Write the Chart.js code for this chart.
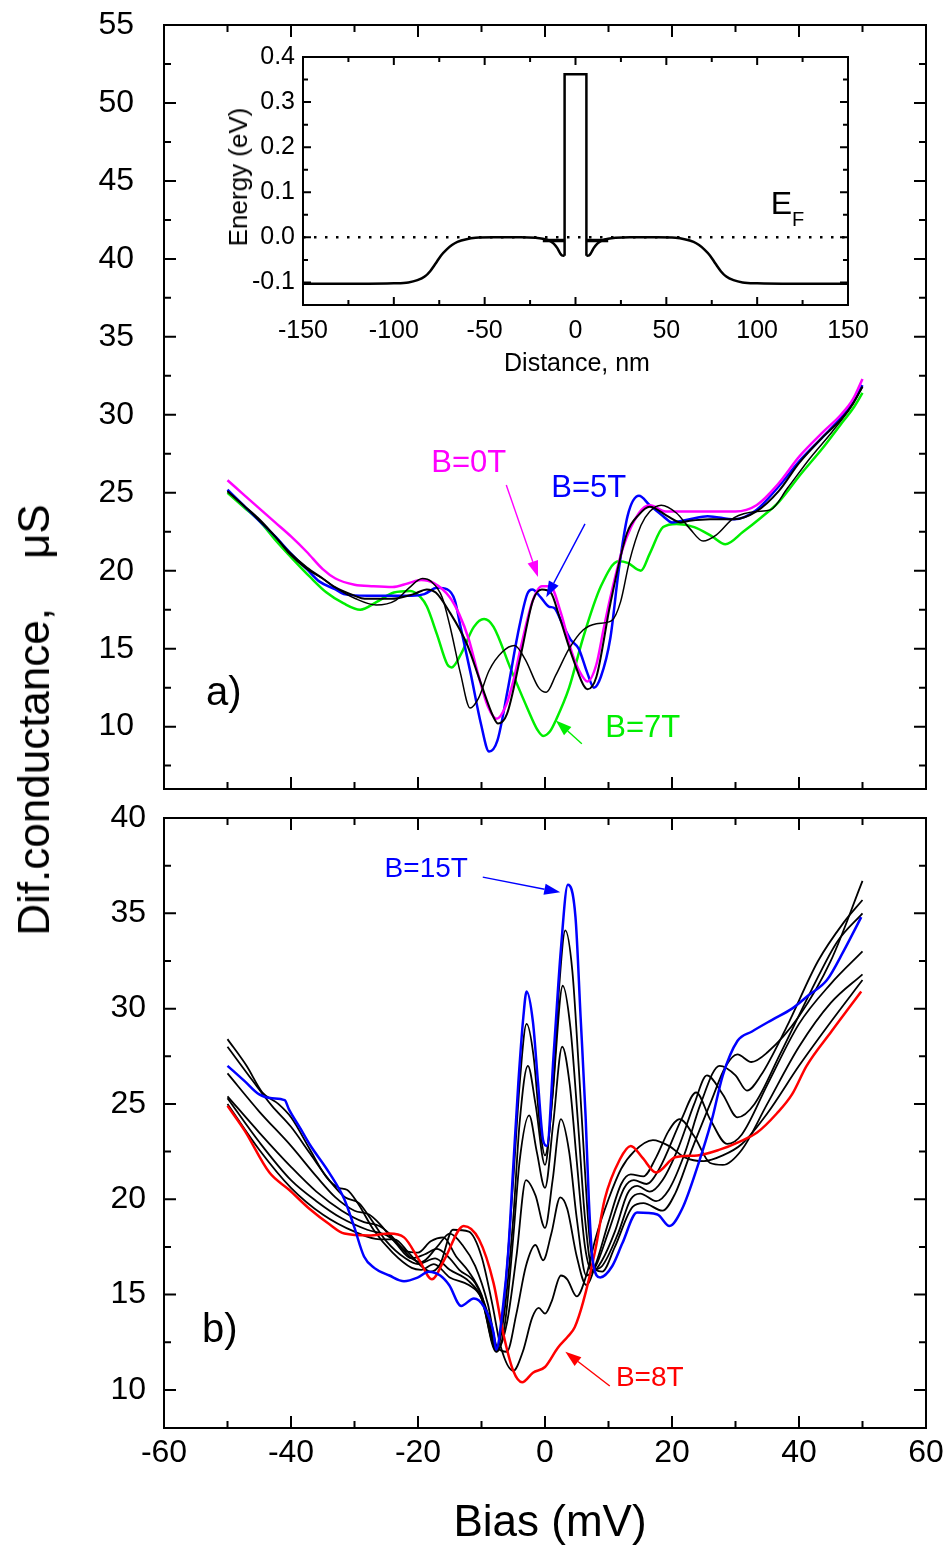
<!DOCTYPE html>
<html>
<head>
<meta charset="utf-8">
<title>Dif. conductance vs bias</title>
<script src="https://cdn.jsdelivr.net/npm/chart.js@4.4.1/dist/chart.umd.min.js"></script>
<style>
  body { margin: 0; background: #fff; }
  #page { position: relative; width: 948px; height: 1548px; overflow: hidden;
          font-family: "Liberation Sans", Arial, sans-serif; color: #000; }
  canvas { position: absolute; }
  .lbl { position: absolute; white-space: pre; line-height: 1; transform: translate(-50%, -50%); }
  .rot { transform: translate(-50%, -50%) rotate(-90deg); }
</style>
</head>
<body>
<div id="page">
  <canvas id="topChart" width="948" height="820" style="left:0;top:0"></canvas>
  <canvas id="bottomChart" width="948" height="758" style="left:0;top:790px"></canvas>
  <canvas id="insetChart" width="680" height="350" style="left:200px;top:30px"></canvas>
  <div class="lbl rot" style="left:34px;top:720px;font-size:44px">Dif.conductance,    μS</div>
  <div class="lbl" style="left:550px;top:1521px;font-size:44px">Bias (mV)</div>
  <div class="lbl rot" style="left:238px;top:177px;font-size:26px">Energy (eV)</div>
  <div class="lbl" style="left:577px;top:362px;font-size:25px">Distance, nm</div>
</div>
<script>
Chart.defaults.font.family = '"Liberation Sans", Arial, sans-serif';
Chart.defaults.color = '#000';

// --- TICKS ---
const biasTicks = [-60, -40, -20, 0, 20, 40, 60];
const biasMinor = [-50, -30, -10, 10, 30, 50];
const condTicksA = [10, 15, 20, 25, 30, 35, 40, 45, 50, 55];
const condMinorA = [7.5, 12.5, 17.5, 22.5, 27.5, 32.5, 37.5, 42.5, 47.5, 52.5];
const condTicksB = [10, 15, 20, 25, 30, 35, 40];
const condMinorB = [12.5, 17.5, 22.5, 27.5, 32.5, 37.5];
const distTicks = [-150, -100, -50, 0, 50, 100, 150];
const distMinor = [-125, -75, -25, 25, 75, 125];
const energyTicks = [-0.1, 0.0, 0.1, 0.2, 0.3, 0.4];
const energyMinor = [-0.05, 0.05, 0.15, 0.25, 0.35];

// --- PANEL a): [bias mV, conductance uS] ---
const a_B0T = [[-50,25.8],[-47.5,24.9],[-45,24.0],[-42.5,23.1],[-40,22.2],[-37.5,21.2],[-35,20.1],[-33,19.5],[-30,19.1],[-27,19.0],[-24,18.95],[-21.5,19.2],[-19.5,19.4],[-17.5,19.2],[-15,18.3],[-13.5,17.2],[-12,15.6],[-10.5,13.3],[-9,11.3],[-7.6,10.5],[-6.2,11.3],[-5,12.9],[-3.8,15.1],[-2,18.0],[-0.5,19.0],[0.8,19.0],[2.5,17.3],[4.2,14.8],[5.5,13.5],[6.7,12.9],[8.1,14.0],[9.2,16.2],[10.3,18.3],[12.3,21.5],[14.8,23.7],[16.5,24.2],[19,23.8],[22,23.8],[26,23.8],[30,23.8],[33.3,24.2],[36.8,25.6],[40,27.3],[43.8,28.9],[46.6,30.0],[48.5,31.0],[50,32.3]];
const a_B5T = [[-50,25.2],[-47.5,24.2],[-45,23.2],[-42.5,22.2],[-40,21.1],[-37.5,20.1],[-35.5,19.3],[-33,18.8],[-31.7,18.5],[-28,18.4],[-24,18.4],[-21,18.4],[-19,18.5],[-17,18.9],[-15.4,18.8],[-14.2,18.1],[-13.3,16.4],[-11.7,13.4],[-10.1,10.2],[-8.8,8.4],[-7.5,9.1],[-5.9,12.3],[-4.3,15.9],[-2.8,18.5],[-2.0,18.8],[-0.7,18.3],[0.6,17.7],[1.5,17.6],[2.5,16.8],[4,15.6],[5.3,15.0],[6.7,13.4],[7.7,12.5],[8.8,13.2],[10.3,15.7],[11.6,20.0],[13,23.5],[14.8,24.8],[16.5,24.2],[18.6,23.5],[20,23.1],[22.8,23.3],[25.6,23.5],[29.8,23.3],[33.3,23.9],[36.8,25.4],[40,27.0],[43.8,28.6],[46.6,29.8],[48.5,30.8],[50,31.9]];
const a_B7T = [[-50,25.0],[-47.5,24.1],[-45,23.2],[-42.3,21.9],[-39.6,20.7],[-37,19.6],[-34.4,18.6],[-31.7,17.9],[-29.1,17.5],[-26.5,18.0],[-23.8,18.6],[-21.2,18.7],[-19.6,18.3],[-18.6,17.7],[-17,15.9],[-15.4,14.0],[-14.7,13.8],[-13.3,14.6],[-11.2,16.4],[-9.6,16.9],[-8.1,16.4],[-5.5,13.8],[-2.8,11.2],[-1.2,9.8],[-0.3,9.4],[0.8,9.7],[1.7,10.4],[3.8,12.5],[6,15.7],[8.8,19.0],[11.6,20.6],[13,20.5],[15.1,20.0],[16.5,21.1],[18.6,22.8],[20.7,23.0],[23.5,22.8],[26.3,22.2],[28.4,21.7],[31.2,22.5],[34,23.4],[36.8,24.4],[40.3,26.2],[43.8,27.9],[46.6,29.4],[48.5,30.4],[50,31.4]];
const a_blackA = [[-50,25.1],[-47.5,24.2],[-45,23.3],[-42.5,22.2],[-40.3,21.2],[-37.5,20.2],[-35,19.5],[-33.3,19.0],[-30,18.4],[-28.4,18.2],[-24.2,18.2],[-20.7,18.5],[-18.6,18.8],[-17.2,18.6],[-15.1,17.4],[-12.3,15.3],[-10.2,12.9],[-8.1,10.6],[-7.4,10.2],[-6,10.8],[-3.8,14.6],[-1.9,18.1],[-0.5,18.8],[0.9,18.6],[2.3,17.0],[4.2,14.6],[6,12.7],[6.7,12.4],[8.1,13.2],[10.3,17.9],[12.9,22.4],[14.8,23.6],[16.5,24.1],[19.3,23.5],[21.4,23.1],[22.8,23.2],[26,23.3],[29.8,23.3],[33.3,23.8],[36.8,25.1],[40,26.9],[43.8,28.6],[46.6,29.7],[48.5,30.7],[50,31.8]];
const a_blackB = [[-50,25.1],[-47.5,24.2],[-45,23.2],[-42.5,22.2],[-40.3,21.1],[-37.5,20.1],[-35,19.5],[-33.3,19.0],[-29.8,18.2],[-26.6,17.8],[-23.5,18.1],[-21.4,18.9],[-19.3,19.5],[-17.9,19.3],[-16.2,18.3],[-15,16.5],[-13.3,13.4],[-11.8,11.2],[-10.5,11.8],[-8.8,13.6],[-6.7,14.8],[-4.8,15.2],[-3.1,14.3],[-1,12.5],[0.2,12.2],[1.7,13.3],[3.8,15.0],[6,16.2],[8.1,16.6],[10.5,16.8],[11.9,18.0],[13.3,20.6],[15.1,22.9],[16.5,23.8],[18.3,24.2],[20.7,23.7],[22.8,22.7],[24.9,21.9],[27,22.3],[29.8,23.4],[33.3,23.8],[35.5,23.9],[38.2,25.3],[41.7,27.2],[45.2,28.9],[48,30.4],[50,31.8]];

// --- PANEL b): [bias mV, conductance uS] ---
const b_B8T = [[-50,24.9],[-47.3,23.6],[-43.4,21.4],[-40.3,20.5],[-37.1,19.5],[-34,18.7],[-31.6,18.2],[-27.7,18.1],[-24.5,18.2],[-22.2,18.0],[-19.8,16.8],[-17.8,15.8],[-15.9,16.8],[-12.8,18.6],[-10.4,17.9],[-8.1,15.6],[-6.6,13.0],[-5,11.0],[-3.6,10.4],[-1.9,10.9],[0,11.2],[2,12.2],[3.6,12.8],[4.7,13.3],[6,14.6],[7.9,17.3],[9.4,20.0],[11.8,22.1],[13.5,22.8],[15.3,22.2],[17.5,21.4],[20.5,22.2],[24,22.3],[27.5,22.6],[30.5,23.0],[33.4,23.5],[36.5,24.5],[38.9,25.5],[41.2,27.0],[45.1,28.8],[49.8,30.9]];
const b_B9T = [[-50,25.0],[-45,22.6],[-40,20.6],[-35,19.2],[-30,18.3],[-26,17.9],[-23.7,17.9],[-21.5,17.2],[-19.5,16.5],[-18,16.2],[-16.5,16.6],[-14.5,18.4],[-12,18.3],[-10,17.0],[-8.3,14.5],[-7,12.3],[-5,11.0],[-3.5,12.0],[-2,13.8],[-1,14.3],[0,14.0],[1,14.6],[2.5,16.0],[3.5,15.8],[5,14.9],[6.5,16.0],[8,18.0],[10,20.0],[12,21.6],[14,22.5],[17,23.1],[19.5,22.8],[22,22.2],[25,22.0],[28,22.3],[31,22.9],[35,24.5],[40,27.0],[45,29.3],[50,31.5]];
const b_B10T = [[-50,25.3],[-45,23.0],[-40,21.0],[-36,19.9],[-32,19.0],[-28,18.4],[-24.9,18.1],[-23,17.6],[-21,16.9],[-19.5,16.7],[-17,17.5],[-15,18.2],[-13,17.6],[-11,16.5],[-9,14.5],[-7.5,12.2],[-6,12.0],[-4.5,14.0],[-3,16.5],[-1.5,17.6],[-0.3,16.8],[1,18.2],[2.4,20.1],[3.5,19.5],[5,17.0],[6.5,15.5],[8,16.6],[10,18.8],[12,20.8],[13.5,21.3],[15.5,21.2],[17.5,22.2],[19.5,23.6],[21.2,24.2],[23.5,23.3],[26,21.9],[28,21.8],[31,22.6],[35,25.0],[40,28.0],[45,30.3],[50,31.8]];
const b_B11T = [[-50,25.4],[-45,23.5],[-40,21.7],[-36,20.4],[-32,19.4],[-28.5,18.8],[-26.1,18.6],[-24.5,18.2],[-22,17.3],[-20,17.2],[-18,17.8],[-16,18.0],[-14,17.0],[-12,16.2],[-10,15.0],[-7.5,12.1],[-6,13.5],[-4.5,17.0],[-3,21.0],[-1.5,20.2],[0,18.5],[1.2,21.0],[2.5,24.2],[3.8,22.5],[5,19.0],[6.5,16.0],[8,16.5],[10,18.3],[12.5,20.6],[14,21.0],[16,20.8],[18,21.6],[21.5,24.2],[23.8,25.6],[26,24.2],[28.7,22.9],[31,23.4],[35,26.0],[40,29.2],[45,31.3],[50,33.0]];
const b_B12T = [[-50,26.6],[-45,24.6],[-40,22.8],[-36,21.2],[-33,20.1],[-30,19.4],[-27.7,19.2],[-26,18.7],[-23.5,17.7],[-21,16.9],[-19,17.1],[-17,17.4],[-15,16.9],[-13.5,16.3],[-11,15.6],[-9,14.0],[-7.6,12.0],[-6.3,13.5],[-5,18],[-4,22],[-2.5,24.4],[-1.3,22.5],[0,20.6],[1.3,24.0],[2.7,28.0],[3.9,26.0],[5,22.0],[6.3,17.5],[7.5,16.2],[9,16.8],[11,18.3],[13,20.3],[14.5,20.7],[16.5,20.4],[18.5,21.0],[21,22.7],[23.5,25.0],[25.5,26.5],[28,25.5],[30.3,24.3],[33,25.0],[37,27.6],[42,31.0],[46,33.5],[50,35.0]];
const b_B13T = [[-50,28.0],[-46,26.2],[-43,24.9],[-40,23.8],[-37,22.4],[-34,21.0],[-31.5,20.1],[-29.3,19.8],[-27.5,19.0],[-25,17.8],[-22,16.9],[-20,16.6],[-17.3,16.9],[-15,16.3],[-12,15.7],[-10,14.8],[-7.7,12.0],[-6.5,13.8],[-5,19],[-4,24],[-2.7,27.0],[-1.5,25.0],[0,21.8],[1.2,25.5],[2.8,31.2],[4,29.0],[5.2,24.0],[6.3,19.0],[7.5,16.3],[9,16.5],[11.5,18.2],[13.5,20.0],[15,20.3],[17.5,19.9],[19.5,20.5],[22,22.4],[24.5,25.0],[27.5,27.0],[30,26.5],[31.8,25.7],[34,26.5],[38,29.0],[43,32.5],[47,34.5],[50,35.7]];
const b_B14T = [[-50,28.4],[-47,27.0],[-44.5,25.6],[-42,25.0],[-40,24.3],[-37,22.6],[-34.5,21.2],[-32.5,20.6],[-31.2,20.5],[-29.5,19.8],[-27,18.4],[-24,17.2],[-21,16.4],[-19.5,16.3],[-17.5,16.6],[-15,15.9],[-12,15.5],[-10,14.8],[-7.7,12.1],[-6.5,14.5],[-5,21],[-4,26],[-2.9,29.2],[-1.8,27.5],[-0.7,23.5],[0,22.3],[1.2,25.5],[2.2,31],[3.2,34.1],[4.3,32],[5.3,27],[6.2,22],[7,18],[8,16.3],[9,16.2],[11,17.5],[13.8,19.6],[15.5,19.8],[18.5,19.4],[20.5,20.3],[23,22.5],[26,25.0],[28.5,27.0],[30.3,27.6],[32.5,27.2],[35,27.7],[40,29.6],[45,32.5],[50,36.7]];
const b_B15T = [[-50,27.0],[-47.3,26.2],[-45,25.5],[-43,25.3],[-41,25.2],[-40.3,24.7],[-38.5,23.7],[-37.1,22.9],[-34,21.4],[-31.6,20.0],[-30.1,18.6],[-28.5,17.0],[-26.9,16.4],[-24.5,16.0],[-22.2,15.7],[-20,15.9],[-18.3,16.2],[-16.5,16.0],[-15.1,15.5],[-13.2,14.4],[-11.2,14.8],[-9.7,14.4],[-8.1,13.0],[-7.7,12.1],[-6.6,14.4],[-5.8,17.2],[-5,21.7],[-4.2,26.1],[-3.4,29.6],[-2.9,30.9],[-1.9,29.3],[-1.1,26.1],[-0.3,23.1],[0.3,22.8],[1.4,27.8],[2.5,33.1],[3.6,36.5],[4.8,34.8],[5.6,29.6],[6.4,24.3],[6.9,20.0],[7.5,16.8],[8.7,15.9],[10.6,16.5],[12.2,17.7],[14.5,19.3],[17.7,19.2],[19.6,18.6],[21.6,19.5],[24,21.7],[26.3,24.2],[28,26.5],[30.3,28.3],[32.6,28.8],[35.7,29.4],[38.9,30.0],[41.5,30.7],[44.4,31.5],[47,33.0],[49.8,34.8]];

// --- INSET: band profile [distance nm, energy eV] ---
const profileLeft = [[-150,-0.103],[-120,-0.103],[-100,-0.102],[-92,-0.1],[-87,-0.095],[-83,-0.087],[-80,-0.075],[-77,-0.058],[-74,-0.04],[-71,-0.027],[-68,-0.017],[-65,-0.01],[-60,-0.004],[-55,-0.001],[-45,0.0],[-30,0.0],[-22,-0.001],[-18,-0.003],[-15,-0.006],[-12,-0.014],[-10,-0.024],[-8.5,-0.035],[-7.5,-0.04],[-6,-0.041]];
const barrier = [[-6,-0.041],[-6,0.362],[6,0.362],[6,-0.041]];
const profileRight = [[6,-0.041],[7.5,-0.04],[8.5,-0.035],[10,-0.024],[12,-0.014],[15,-0.006],[18,-0.003],[22,-0.001],[30,0.0],[45,0.0],[55,-0.001],[60,-0.004],[65,-0.01],[68,-0.017],[71,-0.027],[74,-0.04],[77,-0.058],[80,-0.075],[83,-0.087],[87,-0.095],[92,-0.1],[100,-0.102],[120,-0.103],[150,-0.103]];
const levelLeft = [[-18,-0.007],[-6,-0.007]];
const levelRight = [[6,-0.007],[18,-0.007]];
const fermi = [[-150,0],[150,0]];

// --- PLUGINS ---
// tick marks pointing into the plot, on all four sides of the frame
const innerTicks = {
  id: 'innerTicks',
  afterDatasetsDraw(chart, args, o) {
    const { ctx, chartArea: a } = chart;
    const xs = chart.scales.x, ys = chart.scales.y;
    ctx.save();
    ctx.strokeStyle = '#000';
    ctx.lineWidth = o.lineWidth;
    ctx.beginPath();
    const tx = (vals, len) => vals.forEach(v => {
      const p = xs.getPixelForValue(v);
      ctx.moveTo(p, a.bottom); ctx.lineTo(p, a.bottom - len);
      ctx.moveTo(p, a.top); ctx.lineTo(p, a.top + len);
    });
    const ty = (vals, len) => vals.forEach(v => {
      const p = ys.getPixelForValue(v);
      ctx.moveTo(a.left, p); ctx.lineTo(a.left + len, p);
      ctx.moveTo(a.right, p); ctx.lineTo(a.right - len, p);
    });
    tx(o.xMajor, o.major); tx(o.xMinor, o.minor);
    ty(o.yMajor, o.major); ty(o.yMinor, o.minor);
    ctx.stroke();
    ctx.restore();
  }
};

// coloured labels and arrows placed in data units
const notes = {
  id: 'notes',
  afterDatasetsDraw(chart, args, o) {
    const { ctx } = chart;
    const xs = chart.scales.x, ys = chart.scales.y;
    ctx.save();
    (o.arrows || []).forEach(n => {
      const x1 = xs.getPixelForValue(n.from[0]), y1 = ys.getPixelForValue(n.from[1]);
      const x2 = xs.getPixelForValue(n.to[0]), y2 = ys.getPixelForValue(n.to[1]);
      const ang = Math.atan2(y2 - y1, x2 - x1);
      const hl = 16, hw = 5.5;
      const bx = x2 - hl * Math.cos(ang), by = y2 - hl * Math.sin(ang);
      ctx.strokeStyle = n.color;
      ctx.fillStyle = n.color;
      ctx.lineWidth = 1.4;
      ctx.beginPath(); ctx.moveTo(x1, y1); ctx.lineTo(bx, by); ctx.stroke();
      ctx.beginPath();
      ctx.moveTo(x2, y2);
      ctx.lineTo(bx + hw * Math.sin(ang), by - hw * Math.cos(ang));
      ctx.lineTo(bx - hw * Math.sin(ang), by + hw * Math.cos(ang));
      ctx.closePath(); ctx.fill();
    });
    (o.labels || []).forEach(n => {
      ctx.font = n.size + 'px "Liberation Sans", Arial, sans-serif';
      ctx.fillStyle = n.color;
      ctx.textAlign = 'center';
      ctx.textBaseline = 'middle';
      ctx.fillText(n.text, xs.getPixelForValue(n.at[0]), ys.getPixelForValue(n.at[1]));
    });
    ctx.restore();
  }
};

// --- HELPERS ---
function trace(pts, color, width, smooth = true) {
  return {
    data: pts.map(([x, y]) => ({ x, y })),
    borderColor: color,
    borderWidth: width,
    pointRadius: 0,
    fill: false,
    tension: 0,
    cubicInterpolationMode: smooth ? 'monotone' : 'default'
  };
}

// label gap is carried by an invisible tick length so it does not widen the layout padding
function axis(pos, min, max, size, labels, fontSize, gap, fmt) {
  const horiz = pos === 'top' || pos === 'bottom';
  const s = {
    type: 'linear', position: pos, min, max,
    grid: { display: false, drawTicks: false },
    border: { display: true, color: '#000', width: 2 },
    ticks: { display: false },
    afterFit: sc => { if (horiz) sc.height = size; else sc.width = size; }
  };
  if (labels) {
    s.grid = { display: false, drawTicks: true, tickLength: gap };
    s.ticks = { display: true, autoSkip: false, maxRotation: 0, font: { size: fontSize },
                padding: 0, color: '#000', callback: fmt || (v => v) };
    s.afterBuildTicks = sc => { sc.ticks = labels.map(v => ({ value: v })); };
  }
  return s;
}

function baseOptions(scales, ticks, notesOpts) {
  return {
    responsive: false, animation: false, events: [],
    layout: { padding: 0 },
    plugins: { legend: { display: false }, tooltip: { enabled: false },
               innerTicks: ticks, notes: notesOpts },
    scales
  };
}

// --- PANEL a) ---
new Chart(document.getElementById('topChart'), {
  type: 'line',
  data: { datasets: [
    trace(a_blackB, '#000', 1.5),
    trace(a_blackA, '#000', 2),
    trace(a_B0T, '#ff00ff', 2.5),
    trace(a_B5T, '#0000ff', 2.5),
    trace(a_B7T, '#00ee00', 2.5)
  ] },
  options: baseOptions({
    x: axis('bottom', -60, 60, 31),
    x2: axis('top', -60, 60, 25),
    y: axis('left', 6, 55, 164, condTicksA, 32, 30),
    y2: axis('right', 6, 55, 22)
  }, { lineWidth: 2, major: 12, minor: 7, xMajor: biasTicks, xMinor: biasMinor, yMajor: condTicksA, yMinor: condMinorA }, {
    arrows: [
      { from: [-6.1, 25.5], to: [-1.1, 19.6], color: '#ff00ff' },
      { from: [6.3, 23.0], to: [0.2, 18.3], color: '#0000ff' },
      { from: [5.8, 8.9], to: [1.7, 10.4], color: '#00ee00' }
    ],
    labels: [
      { text: 'B=0T', at: [-12.0, 26.9], color: '#ff00ff', size: 31 },
      { text: 'B=5T', at: [6.9, 25.3], color: '#0000ff', size: 31 },
      { text: 'B=7T', at: [15.4, 9.9], color: '#00ee00', size: 31 },
      { text: 'a)', at: [-50.6, 12.1], color: '#000', size: 40 }
    ]
  }),
  plugins: [innerTicks, notes]
});

// --- PANEL b) ---
new Chart(document.getElementById('bottomChart'), {
  type: 'line',
  data: { datasets: [
    trace(b_B15T, '#0000ff', 2.5),
    trace(b_B8T, '#ff0000', 2.5),
    trace(b_B14T, '#000', 1.8),
    trace(b_B13T, '#000', 1.8),
    trace(b_B12T, '#000', 1.8),
    trace(b_B11T, '#000', 1.8),
    trace(b_B10T, '#000', 1.8),
    trace(b_B9T, '#000', 1.8)
  ] },
  options: baseOptions({
    x: axis('bottom', -60, 60, 120, biasTicks, 32, 6),
    x2: axis('top', -60, 60, 28),
    y: axis('left', 8, 40, 164, condTicksB, 32, 18),
    y2: axis('right', 8, 40, 22)
  }, { lineWidth: 2, major: 12, minor: 7, xMajor: biasTicks, xMinor: biasMinor, yMajor: condTicksB, yMinor: condMinorB }, {
    arrows: [
      { from: [-9.8, 36.9], to: [2.4, 36.1], color: '#0000ff' },
      { from: [10.2, 10.2], to: [3.2, 12.0], color: '#ff0000' }
    ],
    labels: [
      { text: 'B=15T', at: [-18.7, 37.3], color: '#0000ff', size: 28 },
      { text: 'B=8T', at: [16.5, 10.6], color: '#ff0000', size: 28 },
      { text: 'b)', at: [-51.2, 13.1], color: '#000', size: 40 }
    ]
  }),
  plugins: [innerTicks, notes]
});

// --- INSET: potential profile ---
const fermiLine = trace(fermi, '#000', 2.5, false);
fermiLine.borderDash = [2.5, 8.5];
new Chart(document.getElementById('insetChart'), {
  type: 'line',
  data: { datasets: [
    trace(profileLeft, '#000', 2.5),
    trace(barrier, '#000', 2.5, false),
    trace(profileRight, '#000', 2.5),
    trace(levelLeft, '#000', 3.5, false),
    trace(levelRight, '#000', 3.5, false),
    fermiLine
  ] },
  options: baseOptions({
    x: axis('bottom', -150, 150, 75, distTicks, 25, 11),
    x2: axis('top', -150, 150, 27),
    y: axis('left', -0.15, 0.4, 103, energyTicks, 25, 8, v => v.toFixed(1)),
    y2: axis('right', -0.15, 0.4, 32)
  }, { lineWidth: 2, major: 8, minor: 5, xMajor: distTicks, xMinor: distMinor, yMajor: energyTicks, yMinor: energyMinor }, {
    labels: [
      { text: 'E', at: [113.4, 0.072], color: '#000', size: 32 },
      { text: 'F', at: [122.5, 0.037], color: '#000', size: 20 }
    ]
  }),
  plugins: [innerTicks, notes]
});
</script>
</body>
</html>
